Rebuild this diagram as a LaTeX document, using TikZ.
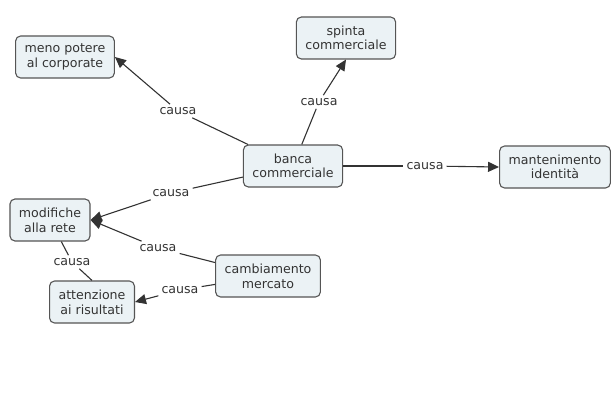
\documentclass[tikz,border=0pt]{standalone}
\usepackage{fontspec}
\setmainfont{DejaVu Sans}
\usepackage{xcolor}
\usetikzlibrary{arrows.meta}

\definecolor{boxfill}{HTML}{EBF2F5}
\definecolor{boxline}{HTML}{555555}
\definecolor{inkgray}{HTML}{333333}

\begin{document}
\begin{tikzpicture}[x=1pt, y=-1pt,
        concept/.style={draw=boxline, fill=boxfill, line width=1.1pt, rounded corners=5pt,
                        align=center, inner xsep=9pt, minimum height=42pt,
                        text=inkgray, font=\fontsize{12.6}{14.6}\selectfont},
        linkword/.style={inner sep=3pt, text=inkgray, font=\fontsize{12.6}{14.6}\selectfont},
        link/.style={draw=inkgray, line width=1.1pt},
        causes/.style={link, -{Triangle[length=11pt, width=10pt]}}]

        \useasboundingbox (0,0) rectangle (612,417);

        % ---------- Concepts ----------
        \node[concept] (banca) at (293,166) {banca\\commerciale};
        \node[concept] (meno) at (65,57) {meno potere\\al corporate};
        \node[concept] (spinta) at (346,38) {spinta\\commerciale};
        \node[concept] (mant) at (555,167) {mantenimento\\identità};
        \node[concept] (modif) at (50,220) {modifiche\\alla rete};
        \node[concept] (camb) at (268,276) {cambiamento\\mercato};
        \node[concept] (atten) at (92,302) {attenzione\\ai risultati};

        % ---------- Linking words ----------
        \node[linkword] (lmeno) at (178,111) {causa};
        \node[linkword] (lspinta) at (319,102) {causa};
        \node[linkword] (lmant) at (425,166) {causa};
        \node[linkword] (lmodif) at (171,193) {causa};
        \node[linkword] (lcamb) at (158,248) {causa};
        \node[linkword] (latten) at (180,290) {causa};
        \node[linkword] (lrete) at (72,262) {causa};

        % from banca commerciale
        \draw[link] (banca) -- (lmeno);
        \draw[causes] (lmeno) -- (meno.east);
        \draw[link] (banca) -- (lspinta);
        \draw[causes] (lspinta) -- (spinta.south);
        \draw[link] (banca) -- (lmant);
        \draw[causes] (lmant) -- (mant.west);
        \draw[link] (banca) -- (lmodif);
        \draw[causes] (lmodif) -- (modif.east);

        % from cambiamento mercato
        \draw[link] (camb) -- (lcamb);
        \draw[causes] (lcamb) -- (modif.east);
        \draw[link] (camb) -- (latten);
        \draw[causes] (latten) -- (atten.east);

        % modifiche alla rete -- attenzione ai risultati
        \draw[link] (modif) -- (lrete);
        \draw[link] (lrete) -- (atten.north);

\end{tikzpicture}
\end{document}
